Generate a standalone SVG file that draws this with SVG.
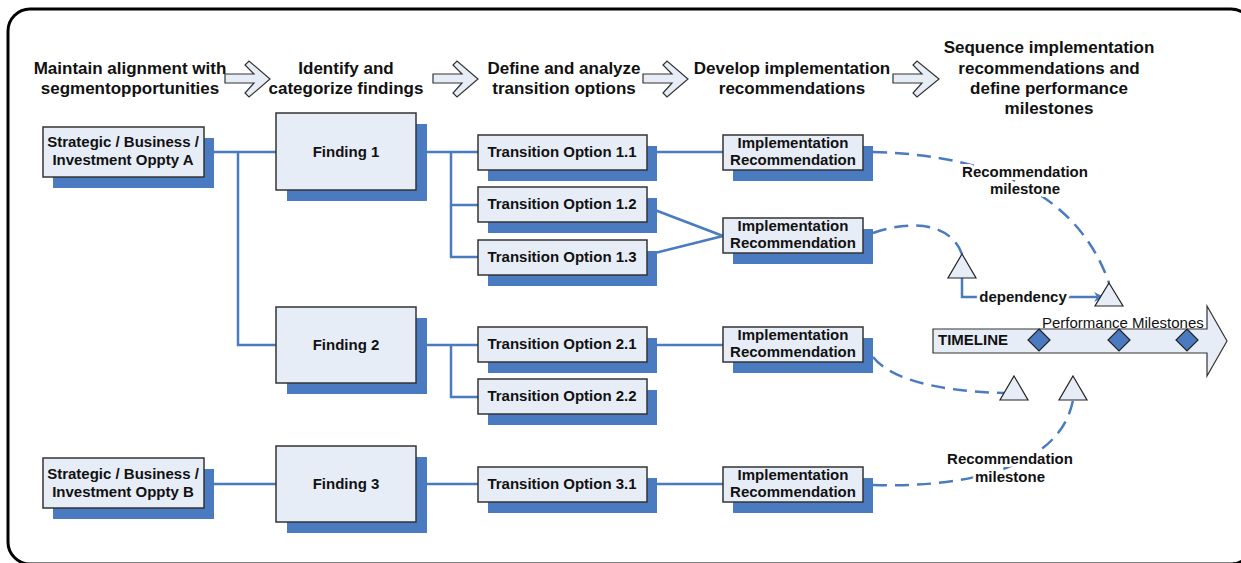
<svg xmlns="http://www.w3.org/2000/svg" width="1241" height="563" viewBox="0 0 1241 563">
<style>
  text { font-family: "Liberation Sans", Arial, sans-serif; fill: #111; }
  .hdr { font-size: 17px; font-weight: bold; text-anchor: middle; }
  .lbl { font-size: 15px; font-weight: bold; text-anchor: middle; }
  .halo { paint-order: stroke; stroke: #fff; stroke-width: 6px; stroke-linejoin: round; }
  .box { fill: #E7EDF7; stroke: #333; stroke-width: 1.5; }
  .shadow { fill: #4A7BC0; }
  .con { fill: none; stroke: #4A7BC0; stroke-width: 2.5; }
  .dash { fill: none; stroke: #4A7BC0; stroke-width: 2.5; stroke-dasharray: 14 8; }
  .harrow { fill: #E7EDF7; stroke: #333; stroke-width: 1.2; }
  .tri { fill: #E7EDF7; stroke: #222; stroke-width: 1.2; }
  .dia { fill: #4A7BC0; stroke: #222; stroke-width: 1.2; }
</style>
<defs>
  <marker id="arr" markerWidth="12" markerHeight="12" refX="10" refY="6" orient="auto" markerUnits="userSpaceOnUse">
    <path d="M0,1 L10,6 L0,11 L3,6 Z" fill="#4A7BC0"/>
  </marker>
</defs>
<rect x="8" y="9" width="1245" height="555" rx="22" ry="22" fill="#fff" stroke="#000" stroke-width="3"/>

<g id="headers">
  <text class="hdr" x="130" y="74">Maintain alignment with</text>
  <text class="hdr" x="130" y="94">segmentopportunities</text>
  <text class="hdr" x="346" y="74">Identify and</text>
  <text class="hdr" x="346" y="94">categorize findings</text>
  <text class="hdr" x="564" y="74">Define and analyze</text>
  <text class="hdr" x="564" y="94">transition options</text>
  <text class="hdr" x="792" y="74">Develop implementation</text>
  <text class="hdr" x="792" y="94">recommendations</text>
  <text class="hdr" x="1049" y="53">Sequence implementation</text>
  <text class="hdr" x="1049" y="74">recommendations and</text>
  <text class="hdr" x="1049" y="94">define performance</text>
  <text class="hdr" x="1049" y="114">milestones</text>
</g>

<g id="header-arrows">
  <polygon class="harrow" points="225,74 254,74 245,65 249,61 270,79 249,97 245,93 254,83 225,83"/>
  <polygon class="harrow" points="433,74 462,74 453,65 457,61 478,79 457,97 453,93 462,83 433,83"/>
  <polygon class="harrow" points="643,74 672,74 663,65 667,61 688,79 667,97 663,93 672,83 643,83"/>
  <polygon class="harrow" points="893,74 922,74 913,65 917,61 939,79 917,97 913,93 922,83 893,83"/>
</g>

<g id="connectors">
  <path class="con" d="M204,152 H276 M238,152 V345 H276"/>
  <path class="con" d="M416,152 H478 M451,152 V257 H478 M451,205 H478"/>
  <path class="con" d="M416,345 H478 M451,345 V397 H478"/>
  <path class="con" d="M204,484 H276 M416,484 H478 M647,484 H723"/>
  <path class="con" d="M647,152 H723 M647,207 L723,236 M647,255 L723,236 M647,345 H723"/>
  <path class="dash" d="M873,152 C1000,155 1080,200 1109,283"/>
  <path class="dash" d="M873,233 C910,220 950,222 962,254"/>
  <path class="dash" d="M873,357 C895,385 960,392 1004,393"/>
  <path class="dash" d="M873,485 C960,488 1060,470 1073,400"/>
  <path class="con" d="M962,278 V297 H1104" marker-end="url(#arr)"/>
</g>

<g id="oppA">
  <rect class="shadow" x="53" y="138" width="161" height="50"/>
  <rect class="box" x="43" y="127" width="161" height="50"/>
  <text class="lbl" x="123" y="147">Strategic / Business /</text>
  <text class="lbl" x="123" y="165">Investment Oppty A</text>
</g>
<g id="oppB">
  <rect class="shadow" x="53" y="469" width="161" height="50"/>
  <rect class="box" x="43" y="458" width="161" height="50"/>
  <text class="lbl" x="123" y="479">Strategic / Business /</text>
  <text class="lbl" x="123" y="497">Investment Oppty B</text>
</g>

<g id="finding1">
  <rect class="shadow" x="287" y="124" width="140" height="77"/>
  <rect class="box" x="276" y="113" width="140" height="77"/>
  <text class="lbl" x="346" y="157">Finding 1</text>
</g>
<g id="finding2">
  <rect class="shadow" x="287" y="318" width="140" height="76"/>
  <rect class="box" x="276" y="307" width="140" height="76"/>
  <text class="lbl" x="346" y="350">Finding 2</text>
</g>
<g id="finding3">
  <rect class="shadow" x="287" y="457" width="140" height="76"/>
  <rect class="box" x="276" y="446" width="140" height="76"/>
  <text class="lbl" x="346" y="489">Finding 3</text>
</g>

<g id="to11">
  <rect class="shadow" x="488" y="146" width="169" height="35"/>
  <rect class="box" x="478" y="135" width="169" height="35"/>
  <text class="lbl" x="562" y="157">Transition Option 1.1</text>
</g>
<g id="to12">
  <rect class="shadow" x="488" y="198" width="169" height="35"/>
  <rect class="box" x="478" y="187" width="169" height="35"/>
  <text class="lbl" x="562" y="209">Transition Option 1.2</text>
</g>
<g id="to13">
  <rect class="shadow" x="488" y="251" width="169" height="35"/>
  <rect class="box" x="478" y="240" width="169" height="35"/>
  <text class="lbl" x="562" y="262">Transition Option 1.3</text>
</g>
<g id="to21">
  <rect class="shadow" x="488" y="338" width="169" height="35"/>
  <rect class="box" x="478" y="327" width="169" height="35"/>
  <text class="lbl" x="562" y="349">Transition Option 2.1</text>
</g>
<g id="to22">
  <rect class="shadow" x="488" y="390" width="169" height="35"/>
  <rect class="box" x="478" y="379" width="169" height="35"/>
  <text class="lbl" x="562" y="401">Transition Option 2.2</text>
</g>
<g id="to31">
  <rect class="shadow" x="488" y="478" width="169" height="35"/>
  <rect class="box" x="478" y="467" width="169" height="35"/>
  <text class="lbl" x="562" y="489">Transition Option 3.1</text>
</g>

<g id="impl1">
  <rect class="shadow" x="733" y="146" width="140" height="35"/>
  <rect class="box" x="723" y="135" width="140" height="35"/>
  <text class="lbl" x="793" y="148">Implementation</text>
  <text class="lbl" x="793" y="165">Recommendation</text>
</g>
<g id="impl2">
  <rect class="shadow" x="733" y="229" width="140" height="35"/>
  <rect class="box" x="723" y="218" width="140" height="35"/>
  <text class="lbl" x="793" y="231">Implementation</text>
  <text class="lbl" x="793" y="248">Recommendation</text>
</g>
<g id="impl3">
  <rect class="shadow" x="733" y="338" width="140" height="35"/>
  <rect class="box" x="723" y="327" width="140" height="35"/>
  <text class="lbl" x="793" y="340">Implementation</text>
  <text class="lbl" x="793" y="357">Recommendation</text>
</g>
<g id="impl4">
  <rect class="shadow" x="733" y="478" width="140" height="35"/>
  <rect class="box" x="723" y="467" width="140" height="35"/>
  <text class="lbl" x="793" y="480">Implementation</text>
  <text class="lbl" x="793" y="497">Recommendation</text>
</g>

<g id="timeline">
  <polygon points="933,329 1207,329 1207,306 1227,341 1207,376 1207,353 933,353" fill="#E7EDF7" stroke="#333" stroke-width="1.2"/>
  <text x="938" y="345" style="font-size:15px;font-weight:bold">TIMELINE</text>
  <text x="1042" y="328" style="font-size:15px">Performance Milestones</text>
  <polygon class="dia" points="1039,329 1050,340 1039,351 1028,340"/>
  <polygon class="dia" points="1119,329 1130,340 1119,351 1108,340"/>
  <polygon class="dia" points="1187,329 1198,340 1187,351 1176,340"/>
</g>

<g id="milestones">
  <polygon class="tri" points="962,254 976,278 948,278"/>
  <polygon class="tri" points="1109,283 1123,306 1095,306"/>
  <polygon class="tri" points="1014,376 1028,400 1000,400"/>
  <polygon class="tri" points="1073,376 1087,400 1059,400"/>
</g>

<g id="labels">
  <text class="lbl halo" x="1025" y="177">Recommendation</text>
  <text class="lbl halo" x="1025" y="194">milestone</text>
  <text class="lbl halo" x="1010" y="464">Recommendation</text>
  <text class="lbl halo" x="1010" y="482">milestone</text>
  <text class="lbl halo" x="1023" y="302">dependency</text>
</g>
</svg>
